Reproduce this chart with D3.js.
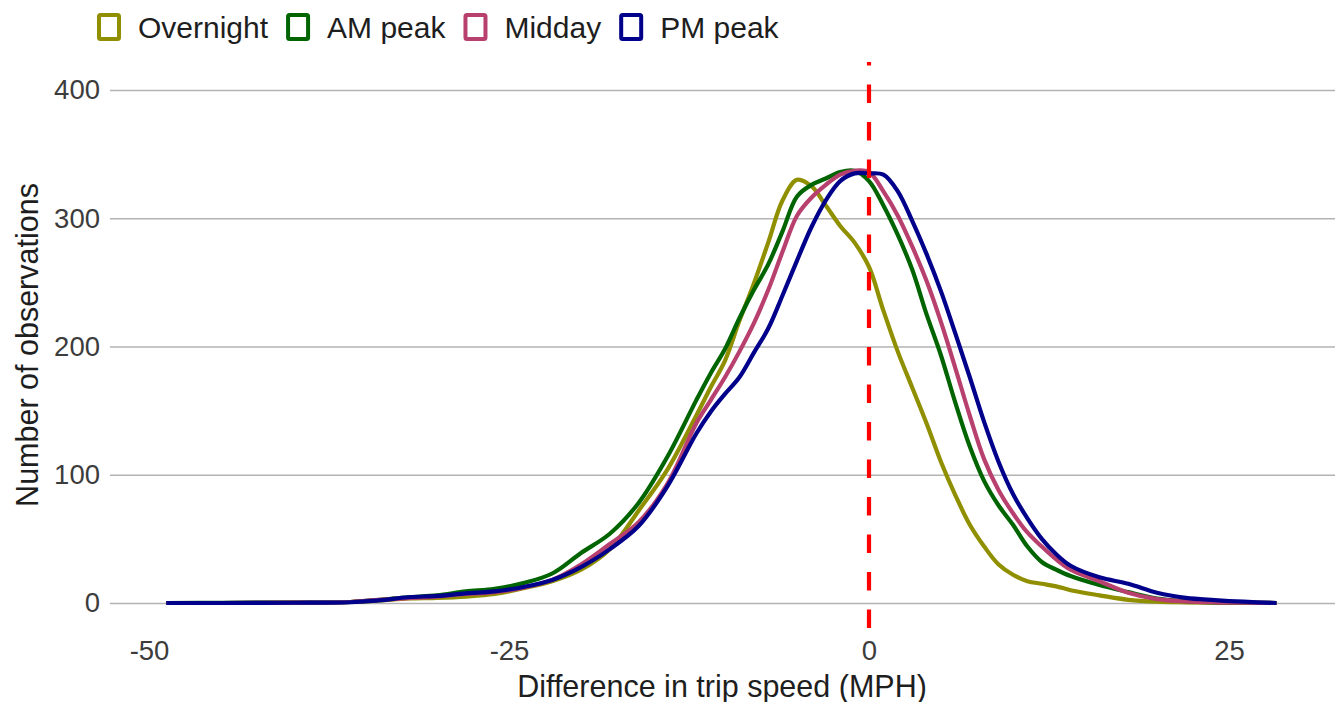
<!DOCTYPE html>
<html>
<head>
<meta charset="utf-8">
<script src="https://cdn.jsdelivr.net/npm/d3@7"></script>
<style>
  html, body { margin: 0; padding: 0; background: #ffffff; }
  svg { display: block; font-family: "Liberation Sans", Arial, sans-serif; }
</style>
</head>
<body>
<svg id="chart" width="1335" height="702"></svg>
<script>
// Difference in trip speed (MPH), shared evaluation points for every period
const speedDiff = [-48.8, -45, -40, -36, -34, -32, -30, -28, -26, -24, -22, -20, -18, -16, -14, -12, -11, -10, -9, -8, -7, -6, -5, -4, -3, -2, -1, 0, 1, 2, 3, 4, 5, 6, 7, 8, 9, 10, 11, 12, 13, 14, 16, 18, 20, 22, 24, 26, 28.3];

// Number of observations per time-of-day period
const overnight = [0, 0, 0.3, 0.8, 2, 3.5, 4, 5, 7, 11.5, 17, 26, 42, 72, 104, 146, 168, 189, 220, 249, 281, 314, 330, 325, 310, 294, 281, 262, 228, 196, 168, 140, 110, 84, 61, 44, 30, 22, 17, 15, 13, 10, 6, 2.5, 1, 0.5, 0.2, 0.1, 0];
const amPeak    = [0, 0.2, 0.3, 0.8, 2.5, 4.5, 6, 9, 11, 15.5, 23, 39, 54, 78, 114, 158, 179, 198, 222, 244, 264, 290, 317, 326, 331, 336, 337, 329, 310, 287, 260, 225, 193, 156, 122, 95, 76, 61, 44, 32, 26, 21, 14, 8.5, 3.5, 1.5, 0.5, 0.2, 0];
const midday    = [0, 0, 0.3, 0.8, 2.5, 3.8, 5, 7, 8.5, 12, 18, 30, 46, 63, 93, 140, 158, 176, 196, 218, 244, 274, 302, 316, 326, 334, 337, 336, 321, 302, 278, 251, 219, 183, 146, 112, 88, 70, 55, 44, 34, 26, 17, 8, 3, 1.2, 0.5, 0.2, 0];
const pmPeak    = [0, 0, 0.2, 0.6, 2, 4.5, 5.5, 7.5, 9, 12.5, 18, 28, 42, 60, 91, 132, 149, 163, 176, 195, 214, 240, 267, 293, 314, 329, 335, 335, 334, 321, 298, 272, 243, 210, 176, 141, 110, 85, 66, 50, 38, 29, 20, 15, 8, 4, 2.3, 1, 0];

const periodNames = ["Overnight", "AM peak", "Midday", "PM peak"];
const periodColors = ["#8f8f00", "#006400", "#b8406e", "#00008b"];
const periodValues = [overnight, amPeak, midday, pmPeak];

const xTicks = [-50, -25, 0, 25];
const yTicks = [0, 100, 200, 300, 400];
const refLine = 0;

const svg = d3.select("#chart");

const x = d3.scaleLinear().domain([-50, 25]).range([149, 1229]);
const y = d3.scaleLinear().domain([0, 400]).range([603, 90]);

const panelLeft = 110, panelRight = 1335, panelTop = 62, panelBottom = 628;
const tickColor = "#3c3c3c", titleColor = "#1e1e1e";

// Horizontal grid lines with y tick labels
const yAxis = d3.axisLeft(y).tickValues(yTicks).tickSize(-(panelRight - panelLeft)).tickPadding(10).tickFormat(d => String(d));
const gy = svg.append("g").attr("transform", `translate(${panelLeft},0)`).call(yAxis);
gy.select(".domain").remove();
gy.selectAll(".tick line").attr("stroke", "#b3b3b3").attr("stroke-width", 1.4);
gy.selectAll(".tick text").attr("fill", tickColor).attr("font-size", 27.5).attr("font-family", "Liberation Sans, Arial, sans-serif");

// x tick labels only
const xAxis = d3.axisBottom(x).tickValues(xTicks).tickSize(0).tickPadding(0).tickFormat(d => String(d));
const gx = svg.append("g").attr("transform", `translate(0,640)`).call(xAxis);
gx.select(".domain").remove();
gx.selectAll(".tick text").attr("fill", tickColor).attr("font-size", 27.5).attr("font-family", "Liberation Sans, Arial, sans-serif").attr("dy", "0.71em");

// Axis titles
svg.append("text")
  .attr("x", 722).attr("y", 697)
  .attr("text-anchor", "middle")
  .attr("font-size", 30.5).attr("fill", titleColor)
  .text("Difference in trip speed (MPH)");

svg.append("text")
  .attr("transform", `translate(38,${(panelTop + panelBottom) / 2}) rotate(-90)`)
  .attr("text-anchor", "middle")
  .attr("font-size", 30.5).attr("fill", titleColor)
  .text("Number of observations");

// Density-style lines per period
const line = d3.line()
  .x((d, i) => x(speedDiff[i]))
  .y(d => y(d))
  .curve(d3.curveCatmullRom.alpha(0.5));

svg.append("g").selectAll("path")
  .data(periodValues)
  .join("path")
  .attr("d", d => line(d))
  .attr("fill", "none")
  .attr("stroke", (d, i) => periodColors[i])
  .attr("stroke-width", 4.2)
  .attr("stroke-linejoin", "round")
  .attr("stroke-linecap", "butt");

// Reference line at zero difference, dashes laid out from the bottom edge
svg.append("line")
  .attr("x1", x(refLine)).attr("x2", x(refLine))
  .attr("y1", panelBottom).attr("y2", panelTop)
  .attr("stroke", "#ff0000")
  .attr("stroke-width", 4.2)
  .attr("stroke-dasharray", "18.5,19");

// Legend
const legend = svg.append("g").attr("font-size", 30).attr("fill", titleColor);
let lx = 97;
periodNames.forEach((name, i) => {
  legend.append("rect")
    .attr("x", lx + 2).attr("y", 15)
    .attr("width", 20).attr("height", 24)
    .attr("rx", 1.5)
    .attr("fill", "#ffffff")
    .attr("stroke", periodColors[i])
    .attr("stroke-width", 4);
  const t = legend.append("text")
    .attr("x", lx + 41).attr("y", 38)
    .text(name);
  lx = lx + 41 + t.node().getComputedTextLength() + 18;
});
</script>
</body>
</html>
